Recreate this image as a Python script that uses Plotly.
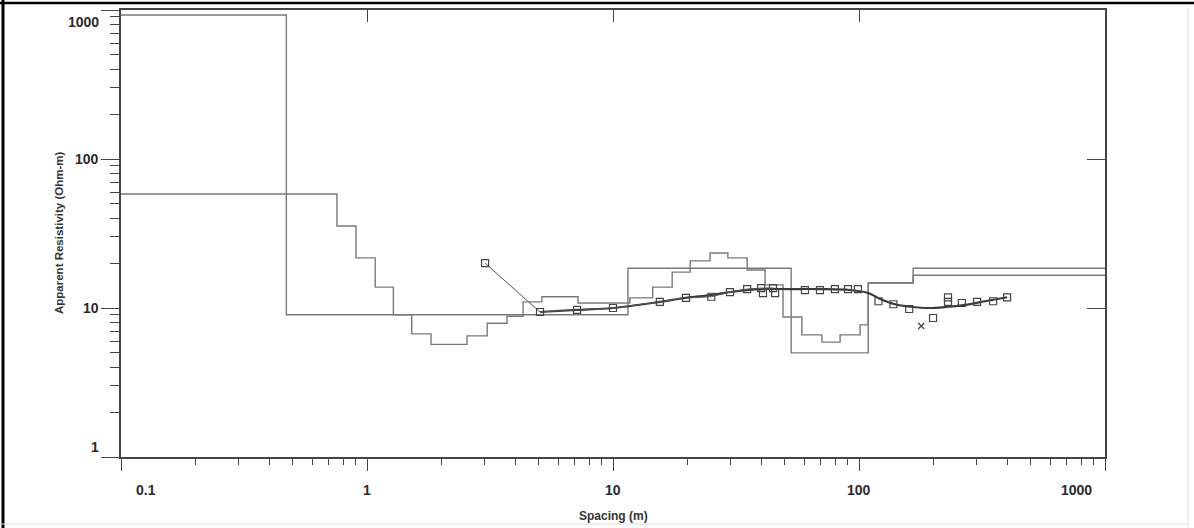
import math
import plotly.graph_objects as go

# ---------------- data ----------------
# Model A (few layers): layer bottoms (m) and resistivities (Ohm-m)
modelA_bounds = [0.47, 11.5, 53, 109, 166]
modelA_rho = [925, 9.0, 18.5, 5.0, 14.7, 18.5]

# Model B (many thin layers / equivalent smooth model)
modelB_bounds = [0.755, 0.902, 1.08, 1.28, 1.52, 1.82, 2.55, 3.08, 3.71, 4.31,
                 5.14, 7.21, 11.7, 14.5, 17.4, 20.6, 24.8, 29.3, 35.1, 41.5,
                 49.1, 58.6, 70.7, 83.8, 101, 109, 166]
modelB_rho = [58.2, 35.5, 21.7, 13.8, 9.0, 6.7, 5.7, 6.5, 7.9, 8.8,
              11.0, 11.9, 10.8, 11.7, 13.8, 17.4, 20.7, 23.4, 21.7, 18.0,
              14.3, 8.7, 6.6, 5.9, 6.6, 7.7, 14.7, 16.6]

# Observed field data (two segments)
obs1_x = [3.02, 5.05, 7.14, 10.0, 15.5, 19.8, 25.1, 29.9, 35.1, 40.0, 44.7]
obs1_y = [20.0, 9.4, 9.7, 10.0, 11.0, 11.7, 11.9, 12.8, 13.4, 13.6, 13.6]
obs2_x = [40.7, 45.6, 60.3, 69.4, 79.8, 90.2, 99, 120, 138, 160, 200, 230, 230, 262, 302, 351, 400]
obs2_y = [12.6, 12.6, 13.2, 13.2, 13.4, 13.4, 13.4, 11.1, 10.6, 9.85, 8.57, 11.8, 11.0, 10.8, 11.0, 11.1, 11.8]

# Masked (rejected) point
masked_x = [179]
masked_y = [7.57]

# Calculated curve
calc_x = [5.05, 7.1, 10, 15.5, 19.8, 25, 30, 35, 40.7, 52, 69, 92, 109, 122, 140, 162, 193, 230, 270, 325, 400]
calc_y = [9.4, 9.7, 10.0, 11.0, 11.7, 12.2, 12.8, 13.2, 13.4, 13.4, 13.4, 13.2, 12.6, 11.5, 10.6, 10.2, 10.0, 10.2, 10.5, 11.1, 11.8]

x_major = [0.1, 1, 10, 100, 1000]
x_major_text = ["0.1", "1", "10", "100", "1000"]
y_major = [1, 10, 100, 1000]
y_major_text = ["1", "10", "100", "1000"]

X_MIN, X_MAX = 0.1, 1000
Y_MIN, Y_MAX = 1, 1000

# ---------------- layout constants ----------------
W, H = 1194, 528
ML, MR, MT, MB = 121, 89, 10, 71
PW, PH = W - ML - MR, H - MT - MB

def px_x(p):
    return (p - ML) / PW

def px_y(p):
    return (H - MB - p) / PH

AX = "#454545"
TXT = "#2a2a2a"
MODEL = "#7a7a7a"

def step_xy(bounds, rho):
    xs = [X_MIN] + list(bounds) + [X_MAX]
    ys = list(rho) + [rho[-1]]
    return xs, ys

fig = go.Figure()

ax_, ay_ = step_xy(modelA_bounds, modelA_rho)
fig.add_trace(go.Scatter(x=ax_, y=ay_, mode="lines", line=dict(color=MODEL, width=1.4, shape="hv"),
                         showlegend=False, hoverinfo="skip"))
bx_, by_ = step_xy(modelB_bounds, modelB_rho)
fig.add_trace(go.Scatter(x=bx_, y=by_, mode="lines", line=dict(color=MODEL, width=1.4, shape="hv"),
                         showlegend=False, hoverinfo="skip"))

fig.add_trace(go.Scatter(x=calc_x, y=calc_y, mode="lines", line=dict(color="#3a3a3a", width=2.2, shape="spline"),
                         showlegend=False))

obs_marker = dict(symbol="square-open", size=7, color="#444444", line=dict(width=1.2))
fig.add_trace(go.Scatter(x=obs1_x, y=obs1_y, mode="lines+markers",
                         line=dict(color="#555555", width=1), marker=obs_marker, showlegend=False))
fig.add_trace(go.Scatter(x=obs2_x, y=obs2_y, mode="markers", marker=obs_marker, showlegend=False))
fig.add_trace(go.Scatter(x=masked_x, y=masked_y, mode="markers",
                         marker=dict(symbol="x-thin-open", size=6, color="#444444", line=dict(width=1.3, color="#444444")),
                         showlegend=False))

# dummy trace for mirror axes (top/right)
fig.add_trace(go.Scatter(x=[None], y=[None], xaxis="x2", yaxis="y2", showlegend=False, hoverinfo="skip"))

x_minor = [k * d for d in [0.1, 1, 10, 100] for k in range(2, 10)]
y_minor = [k * d for d in [1, 10, 100] for k in range(2, 10)]

lx = [math.log10(X_MIN), math.log10(X_MAX)]
ly = [math.log10(Y_MIN), math.log10(Y_MAX)]

fig.update_layout(
    width=W, height=H,
    margin=dict(l=ML, r=MR, t=MT, b=MB),
    paper_bgcolor="white", plot_bgcolor="white",
    showlegend=False,
    font=dict(family="Liberation Sans, Arial, sans-serif", color=TXT),
    xaxis=dict(type="log", range=lx, showgrid=False, zeroline=False,
               showline=True, linecolor=AX, linewidth=1.5,
               tickmode="array", tickvals=x_major, ticks="outside", ticklen=12, tickwidth=1.3, tickcolor=AX,
               showticklabels=False,
               minor=dict(tickmode="array", tickvals=x_minor, ticks="outside", ticklen=6, tickwidth=1, tickcolor=AX, showgrid=False)),
    yaxis=dict(type="log", range=ly, showgrid=False, zeroline=False,
               showline=True, linecolor=AX, linewidth=1.5,
               tickmode="array", tickvals=y_major, ticks="outside", ticklen=18, tickwidth=1.3, tickcolor=AX,
               showticklabels=False,
               minor=dict(tickmode="array", tickvals=y_minor, ticks="outside", ticklen=9, tickwidth=1, tickcolor=AX, showgrid=False)),
    xaxis2=dict(type="log", range=lx, overlaying="x", side="top", anchor="y", showgrid=False, zeroline=False,
                showline=True, linecolor=AX, linewidth=1.5,
                tickmode="array", tickvals=x_major, ticks="inside", ticklen=12, tickwidth=1.3, tickcolor=AX,
                showticklabels=False),
    yaxis2=dict(type="log", range=ly, overlaying="y", side="right", anchor="x", showgrid=False, zeroline=False,
                showline=True, linecolor=AX, linewidth=1.5,
                tickmode="array", tickvals=y_major, ticks="inside", ticklen=18, tickwidth=1.3, tickcolor=AX,
                showticklabels=False),
)

ann = []
x_shift = {0: 25, len(x_major) - 1: -29}
for i, (v, t) in enumerate(zip(x_major, x_major_text)):
    ann.append(dict(x=math.log10(v), xref="x", y=0, yref="paper", yanchor="middle", xanchor="center",
                    yshift=-33, xshift=x_shift.get(i, 0), text=t, showarrow=False,
                    font=dict(size=14, color=TXT, weight="bold")))
y_shift = {0: 10, len(y_major) - 1: -12}
for i, (v, t) in enumerate(zip(y_major, y_major_text)):
    ann.append(dict(x=0, xref="paper", xanchor="right", xshift=-20, y=math.log10(v), yref="y", yanchor="middle",
                    yshift=y_shift.get(i, 0), text=t, showarrow=False,
                    font=dict(size=14, color=TXT, weight="bold")))

ann.append(dict(x=px_x(59), y=px_y(233), xref="paper", yref="paper", text="Apparent Resistivity (Ohm-m)",
                textangle=-90, showarrow=False, xanchor="center", yanchor="middle",
                font=dict(size=11.5, color="#333333", weight="bold")))
ann.append(dict(x=px_x(613), y=px_y(516), xref="paper", yref="paper", text="Spacing (m)",
                showarrow=False, xanchor="center", yanchor="middle",
                font=dict(size=12, color="#333333", weight="bold")))
fig.update_layout(annotations=ann)

# outer page border of the scanned figure
shapes = [
    dict(type="line", xref="paper", yref="paper", x0=px_x(3), x1=px_x(3), y0=px_y(0), y1=px_y(H),
         line=dict(color="black", width=3)),
    dict(type="line", xref="paper", yref="paper", x0=px_x(0), x1=px_x(W), y0=px_y(3), y1=px_y(3),
         line=dict(color="black", width=2.5)),
    dict(type="line", xref="paper", yref="paper", x0=px_x(1188), x1=px_x(1188), y0=px_y(8), y1=px_y(H),
         line=dict(color="#dddddd", width=1)),
    dict(type="line", xref="paper", yref="paper", x0=px_x(0), x1=px_x(1188), y0=px_y(524), y1=px_y(524),
         line=dict(color="#dddddd", width=1)),
]
fig.update_layout(shapes=shapes)

fig.write_html("out.html", config={"displayModeBar": False},
               post_script="document.body.style.margin='0';document.body.style.overflow='hidden';")
